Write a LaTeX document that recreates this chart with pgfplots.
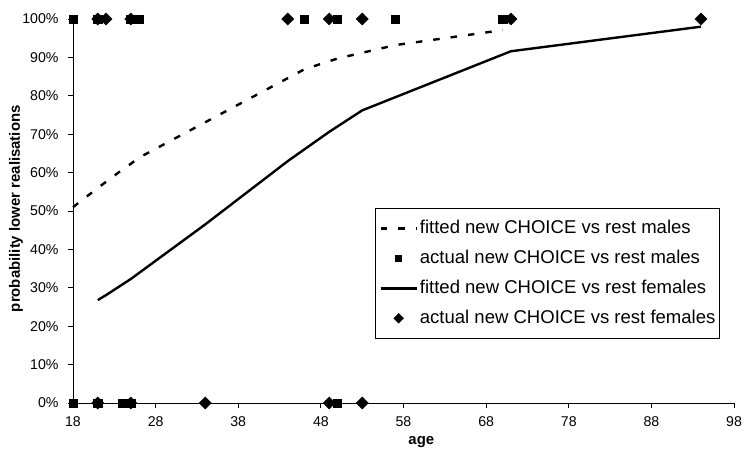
\documentclass[border=0pt]{standalone}
\usepackage{pgfplots}
\pgfplotsset{compat=1.18}
\usepackage{fontspec}
\setmainfont{Liberation Sans}
\pgfplotsset{
  lineleg/.style={legend image code/.code={\draw[##1] (0bp,0bp) -- (36bp,0bp);}},
  markleg/.style={legend image code/.code={\draw[##1, mark size=#1] plot coordinates {(18bp,0bp)};}},
}
\begin{document}
\begin{tikzpicture}
\begin{axis}[
  scale only axis, width=661bp, height=384bp,
  xmin=18, xmax=98, ymin=0, ymax=100,
  axis lines*=left,
  clip=false,
  xtick={18,28,...,98},
  ytick={0,10,...,100},
  yticklabels={0\%,10\%,20\%,30\%,40\%,50\%,60\%,70\%,80\%,90\%,100\%},
  /pgf/number format/assume math mode=true,
  tick align=outside, major tick length=5bp,
  axis line style={line width=0.8bp, black},
  tick style={line width=0.8bp, black},
  ticklabel style={font=\fontsize{14.2}{16}\selectfont},
  xticklabel style={yshift=-5bp},
  yticklabel style={xshift=-6bp},
  xlabel={\textbf{age}},
  ylabel={\textbf{probability lower realisations}},
  label style={font=\fontsize{15}{17}\selectfont},
  xlabel style={at={(axis description cs:0.527,0)}, anchor=center, yshift=-39bp},
  ylabel style={at={(axis description cs:0,0.506)}, anchor=center, yshift=57bp},
  legend style={at={(0.457,0.508)}, anchor=north west,
    font=\fontsize{18.6}{22}\selectfont, draw=black, line width=0.8bp,
    nodes={inner sep=0pt, text height=13.5bp, text depth=3.5bp},
    inner xsep=4bp, inner ysep=11.5bp, row sep=13bp, column sep=2bp},
  legend cell align=left,
]
\addplot[lineleg, black, line width=2.4bp, dash pattern=on 6.5bp off 11bp, mark=none] coordinates {
(18,51.0) (21,56.0) (24,60.8) (25,62.3) (26,63.9) (46,86.9) (50,89.7) (57,93.2) (70,97.1)};
\addlegendentry{fitted new CHOICE vs rest males}
\addplot[markleg=3.2bp, only marks, mark=square*, mark size=4.2bp, black] coordinates {
(18,100) (21,100) (25,100) (26,100) (46,100) (50,100) (57,100) (70,100)
(18,0) (21,0) (24,0) (25,0) (50,0)};
\addlegendentry{actual new CHOICE vs rest males}
\addplot[lineleg, black, line width=2.4bp, mark=none] coordinates {
(21,26.8) (22,28.1) (25,32.3) (34,46.5) (44,63.0) (49,70.6) (53,76.2) (71,91.6) (94,98.0)};
\addlegendentry{fitted new CHOICE vs rest females}
\addplot[markleg=3.3bp, only marks, mark=square*, mark options={rotate=45}, mark size=4.3bp, black] coordinates {
(21,100) (22,100) (25,100) (44,100) (49,100) (53,100) (71,100) (94,100)
(21,0) (25,0) (34,0) (49,0) (53,0)};
\addlegendentry{actual new CHOICE vs rest females}
\coordinate (O) at (rel axis cs:0,0);
\end{axis}
\pgfresetboundingbox
\path ([xshift=-73bp,yshift=-51bp]O) rectangle ([xshift=672bp,yshift=403bp]O);
\end{tikzpicture}
\end{document}
